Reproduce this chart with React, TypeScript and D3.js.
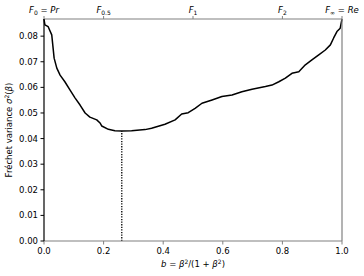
import { useEffect, useRef } from 'react';
import * as d3 from 'd3';

// b = beta^2 / (1 + beta^2) and the Fréchet variance
const bValues = [0, 0.001, 0.003, 0.014, 0.026, 0.034, 0.043, 0.054, 0.07, 0.087, 0.104, 0.121, 0.138, 0.154, 0.177, 0.188, 0.194, 0.216, 0.238, 0.261, 0.294, 0.339, 0.361, 0.406, 0.44, 0.462, 0.484, 0.507, 0.53, 0.564, 0.597, 0.631, 0.664, 0.698, 0.743, 0.765, 0.788, 0.81, 0.832, 0.855, 0.877, 0.899, 0.922, 0.944, 0.961, 0.972, 0.983, 0.994, 1.0];
const variance = [0.0867, 0.0859, 0.0844, 0.0837, 0.0805, 0.0714, 0.0675, 0.0648, 0.0622, 0.059, 0.0559, 0.0531, 0.05, 0.0484, 0.0473, 0.0461, 0.0449, 0.0436, 0.0431, 0.043, 0.0431, 0.0435, 0.044, 0.0456, 0.0473, 0.0496, 0.0501, 0.0518, 0.0538, 0.0551, 0.0564, 0.057, 0.0583, 0.0593, 0.0603, 0.0609, 0.0622, 0.0636, 0.0655, 0.0661, 0.0688, 0.0707, 0.0727, 0.0746, 0.0766, 0.0793, 0.0818, 0.0831, 0.0867];

const minB = 0.261;
const minVariance = 0.043;

const xTicks = [0, 0.2, 0.4, 0.6, 0.8, 1.0];
const yTicks = [0, 0.01, 0.02, 0.03, 0.04, 0.05, 0.06, 0.07, 0.08];

// top axis: F_beta at b = beta^2/(1+beta^2)
const topTicks = [
  { b: 0, sub: '0', rest: ' = Pr' },
  { b: 0.2, sub: '0.5', rest: '' },
  { b: 0.5, sub: '1', rest: '' },
  { b: 0.8, sub: '2', rest: '' },
  { b: 1.0, sub: '∞', rest: ' = Re' },
];

const FONT = 'DejaVu Sans, sans-serif';

function App() {
  const svgRef = useRef<SVGSVGElement>(null);

  useEffect(() => {
    const width = 364;
    const height = 276;
    const margin = { left: 44, right: 22, top: 19, bottom: 35 };

    const svg = d3.select(svgRef.current);
    svg.selectAll('*').remove();

    const x = d3.scaleLinear().domain([0, 1]).range([margin.left, width - margin.right]);
    const y = d3.scaleLinear().domain([0, 0.0867]).range([height - margin.bottom, margin.top]);

    const gray = '#808080';

    // curve
    const line = d3.line<number>()
      .x((_, i) => x(bValues[i]))
      .y(d => y(d));
    svg.append('path')
      .datum(variance)
      .attr('d', line)
      .attr('fill', 'none')
      .attr('stroke', '#000')
      .attr('stroke-width', 1.5)
      .attr('stroke-linejoin', 'round');

    // dotted minimum marker
    svg.append('line')
      .attr('x1', x(minB)).attr('x2', x(minB))
      .attr('y1', y(0)).attr('y2', y(minVariance))
      .attr('stroke', '#000')
      .attr('stroke-width', 1.3)
      .attr('stroke-dasharray', '1.3,1.3');

    // spines
    svg.append('line')
      .attr('x1', x(0)).attr('x2', x(1)).attr('y1', y(0)).attr('y2', y(0))
      .attr('stroke', gray).attr('stroke-width', 1.2);
    svg.append('line')
      .attr('x1', x(0)).attr('x2', x(1)).attr('y1', margin.top).attr('y2', margin.top)
      .attr('stroke', gray).attr('stroke-width', 1.2);
    svg.append('line')
      .attr('x1', x(1)).attr('x2', x(1)).attr('y1', margin.top).attr('y2', y(0))
      .attr('stroke', gray).attr('stroke-width', 1.2);
    svg.append('line')
      .attr('x1', x(0)).attr('x2', x(0)).attr('y1', margin.top).attr('y2', y(0))
      .attr('stroke', '#000').attr('stroke-width', 1.2);

    // bottom ticks
    const bottom = svg.append('g');
    xTicks.forEach(t => {
      bottom.append('line')
        .attr('x1', x(t)).attr('x2', x(t)).attr('y1', y(0)).attr('y2', y(0) + 3.5)
        .attr('stroke', gray).attr('stroke-width', 1);
      bottom.append('text')
        .attr('x', x(t)).attr('y', y(0) + 13)
        .attr('text-anchor', 'middle')
        .style('font-family', FONT).style('font-size', '8.5px')
        .text(d3.format('.1f')(t));
    });

    // left ticks
    const left = svg.append('g');
    yTicks.forEach(t => {
      left.append('line')
        .attr('x1', x(0) - 3.5).attr('x2', x(0)).attr('y1', y(t)).attr('y2', y(t))
        .attr('stroke', '#000').attr('stroke-width', 1);
      left.append('text')
        .attr('x', x(0) - 6).attr('y', y(t) + 3)
        .attr('text-anchor', 'end')
        .style('font-family', FONT).style('font-size', '8.5px')
        .text(d3.format('.2f')(t));
    });

    // top ticks
    const top = svg.append('g');
    topTicks.forEach(t => {
      top.append('line')
        .attr('x1', x(t.b)).attr('x2', x(t.b)).attr('y1', margin.top).attr('y2', margin.top - 3)
        .attr('stroke', gray).attr('stroke-width', 1);
      const txt = top.append('text')
        .attr('x', x(t.b)).attr('y', margin.top - 6)
        .attr('text-anchor', 'middle')
        .style('font-family', FONT).style('font-size', '8.5px');
      txt.append('tspan').style('font-style', 'italic').text('F');
      txt.append('tspan').attr('dy', 2).style('font-size', '6px').text(t.sub);
      if (t.rest) {
        txt.append('tspan').attr('dy', -2).text(' = ');
        txt.append('tspan').style('font-style', 'italic').text(t.rest.replace(' = ', ''));
      }
    });

    // x label
    const xl = svg.append('text')
      .attr('x', (x(0) + x(1)) / 2).attr('y', height - 9)
      .attr('text-anchor', 'middle')
      .style('font-family', FONT).style('font-size', '8.5px');
    xl.append('tspan').style('font-style', 'italic').text('b');
    xl.append('tspan').text(' = ');
    xl.append('tspan').style('font-style', 'italic').text('β');
    xl.append('tspan').attr('dy', -3).style('font-size', '6px').text('2');
    xl.append('tspan').attr('dy', 3).text('/(1 + ');
    xl.append('tspan').style('font-style', 'italic').text('β');
    xl.append('tspan').attr('dy', -3).style('font-size', '6px').text('2');
    xl.append('tspan').attr('dy', 3).text(')');

    // y label
    const yl = svg.append('text')
      .attr('transform', `translate(12,${(y(0) + margin.top) / 2}) rotate(-90)`)
      .attr('text-anchor', 'middle')
      .style('font-family', FONT).style('font-size', '8.5px');
    yl.append('tspan').text('Fréchet variance ');
    yl.append('tspan').style('font-style', 'italic').text('σ');
    yl.append('tspan').attr('dy', -3).style('font-size', '6px').text('2');
    yl.append('tspan').attr('dy', 3).text('(');
    yl.append('tspan').style('font-style', 'italic').text('β');
    yl.append('tspan').text(')');
  }, []);

  return (
    <svg
      ref={svgRef}
      width={364}
      height={276}
      style={{ position: 'absolute', left: 0, top: 0, background: '#fff' }}
    />
  );
}

export default App;
